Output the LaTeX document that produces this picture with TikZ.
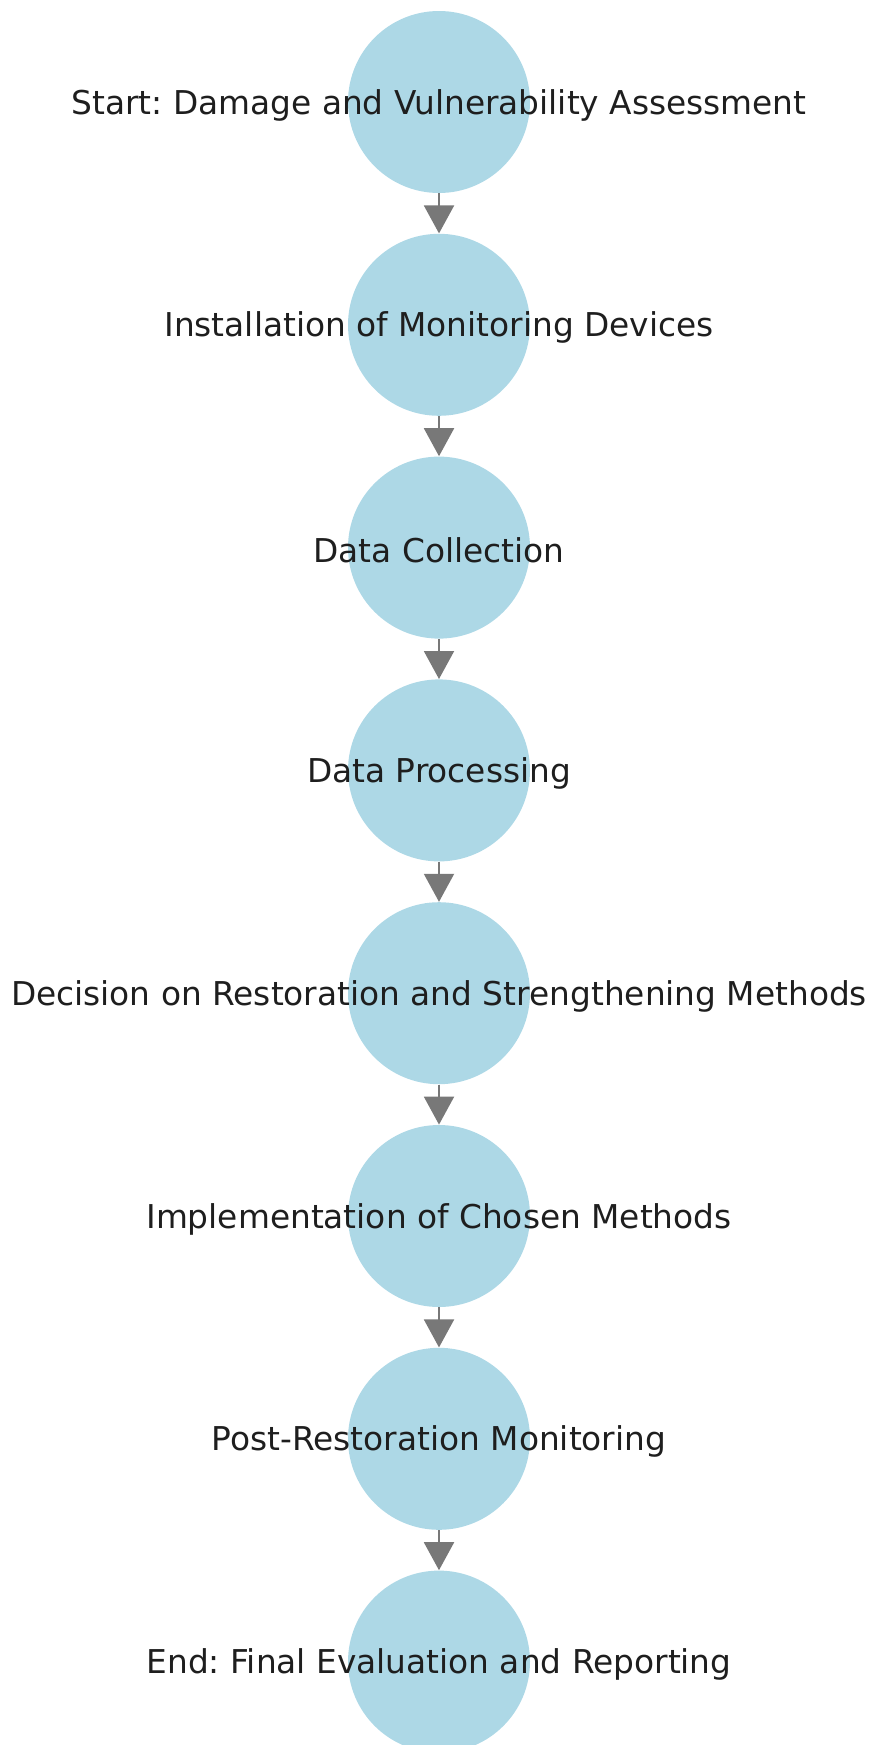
\documentclass[tikz,border=0pt]{standalone}
\usepackage{fontspec}
\setmainfont{DejaVu Sans}
\usepackage{tikz}
\usetikzlibrary{arrows.meta,positioning}
\definecolor{stagebg}{RGB}{173,216,230}
\definecolor{arrgray}{RGB}{120,120,120}
\definecolor{txtdark}{RGB}{30,30,30}
\frenchspacing

\begin{document}
\begin{tikzpicture}[x=0.5pt, y=-0.5pt,
  stage/.style={circle, fill=stagebg, minimum size=91pt, inner sep=0pt},
  lbl/.style={font=\fontsize{16.4}{19}\selectfont, text=txtdark, inner sep=0pt, yshift=-1.5pt},
  arr/.style={-{Triangle[length=14pt, width=15pt]}, line width=1pt, draw=arrgray, fill=arrgray},
  node distance=20pt]
  \useasboundingbox (0,0) rectangle (872,1745);
  \node[stage, label={[lbl]center:{Start: Damage and Vulnerability Assessment}}] (s1) at (439,102) {};
  \node[stage, below=of s1, label={[lbl]center:{Installation of Monitoring Devices}}] (s2) {};
  \node[stage, below=of s2, label={[lbl]center:{Data Collection}}] (s3) {};
  \node[stage, below=of s3, label={[lbl]center:{Data Processing}}] (s4) {};
  \node[stage, below=of s4, label={[lbl]center:{Decision on Restoration and Strengthening Methods}}] (s5) {};
  \node[stage, below=of s5, label={[lbl]center:{Implementation of Chosen Methods}}] (s6) {};
  \node[stage, below=of s6, label={[lbl]center:{Post-Restoration Monitoring}}] (s7) {};
  \node[stage, below=of s7, label={[lbl]center:{End: Final Evaluation and Reporting}}] (s8) {};
  \draw[arr] (s1) -- (s2); \draw[arr] (s2) -- (s3); \draw[arr] (s3) -- (s4); \draw[arr] (s4) -- (s5);
  \draw[arr] (s5) -- (s6); \draw[arr] (s6) -- (s7); \draw[arr] (s7) -- (s8);
\end{tikzpicture}
\end{document}
